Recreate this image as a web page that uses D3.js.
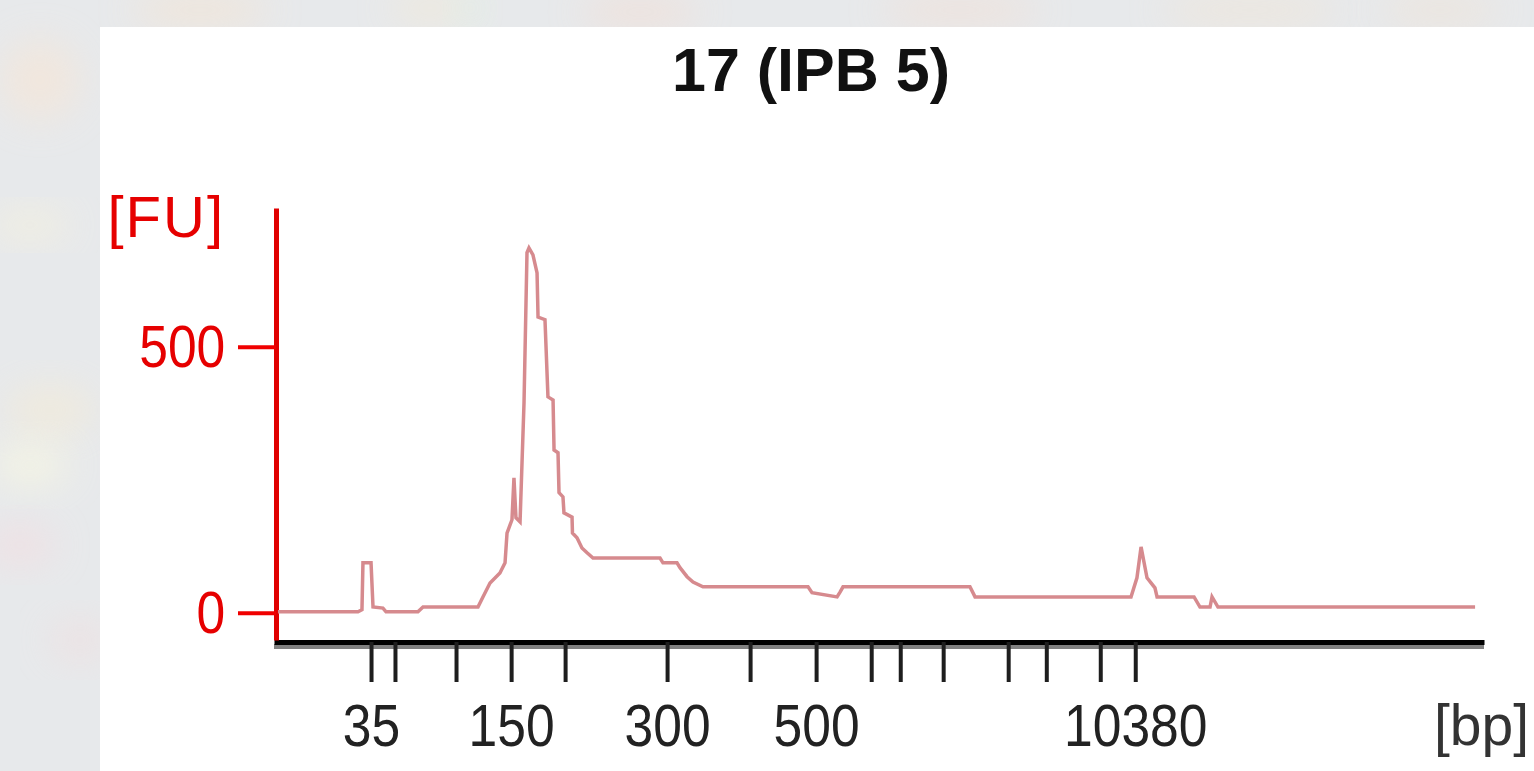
<!DOCTYPE html>
<html>
<head>
<meta charset="utf-8">
<script src="https://cdn.jsdelivr.net/npm/d3@7"></script>
<style>
  html, body { margin: 0; padding: 0; background: #e7e9eb; overflow: hidden; }
  svg { display: block; }
</style>
</head>
<body>
<div class="mydiv"></div>
<script>
var width = 1534;
var height = 771;

// ladder (bp) and where each one migrated (s)
var ladderBp = [35, 50, 100, 150, 200, 300, 400, 500, 600, 700, 1000, 2000, 3000, 7000, 10380];
var ladderTime = [46.71, 48.40, 52.71, 56.60, 60.41, 67.61, 73.47, 78.13, 82.02, 84.07, 87.10, 91.69, 94.38, 98.19, 100.66];
var labelledBp = [35, 150, 300, 500, 10380];
var yTicks = [0, 500];

// electropherogram trace, time (s) vs fluorescence (FU)
var traceTime = [40.14, 45.79, 46.07, 46.14, 46.71, 46.85, 47.55, 47.77, 50.02, 50.38,
                 54.26, 54.61, 55.11, 55.81, 56.17, 56.31, 56.66, 56.80, 56.94, 57.23,
                 57.51, 57.72, 57.86, 58.14, 58.43, 58.50, 58.99, 59.20, 59.56, 59.63,
                 59.91, 59.98, 60.26, 60.33, 60.90, 60.93, 61.25, 61.60, 61.96, 62.38,
                 67.11, 67.32, 68.31, 68.52, 69.02, 69.44, 70.14, 77.56, 77.84, 79.61,
                 79.82, 80.03, 88.99, 89.35, 100.36, 100.78, 101.07, 101.49, 102.05, 102.20,
                 104.81, 105.23, 105.94, 106.08, 106.50, 124.65];
var traceFU = [2, 2, 6, 94, 94, 11, 9, 2, 2, 11,
               11, 30, 56, 75, 94, 150, 175, 254, 179, 171,
               395, 677, 686, 673, 639, 556, 551, 406, 400, 306,
               301, 226, 218, 188, 180, 150, 141, 122, 113, 103,
               103, 94, 94, 85, 68, 58, 49, 49, 38, 30,
               39, 49, 49, 30, 30, 66, 124, 66, 47, 30,
               30, 11, 11, 30, 11, 11];

var svg = d3.select(".mydiv").append("svg")
    .attr("width", width)
    .attr("height", height);

var defs = svg.append("defs");
defs.append("filter")
    .attr("id", "blur")
    .attr("x", "-50%").attr("y", "-50%")
    .attr("width", "200%").attr("height", "200%")
  .append("feGaussianBlur")
    .attr("stdDeviation", 18);

// blurred photo behind the panel
svg.append("rect")
    .attr("width", width)
    .attr("height", height)
    .attr("fill", "#e7e9eb");

var blobs = [
  [200, 10, 70, 14, "#f6e3cf"], [430, 8, 40, 14, "#f3e9d6"], [470, 8, 14, 14, "#dcf3e2"],
  [640, 12, 60, 14, "#f4ddd2"], [960, 10, 80, 14, "#f3dfd4"], [1250, 10, 90, 14, "#f1e5d6"],
  [1440, 10, 60, 14, "#f0e3d6"], [40, 80, 40, 40, "#f5e6d8"], [30, 225, 40, 14, "#f7f2dc"],
  [50, 410, 45, 25, "#f3ebd8"], [30, 465, 40, 22, "#f8f7e2"], [20, 545, 35, 20, "#f3dde1"],
  [80, 640, 30, 20, "#efdfe0"]
];
svg.selectAll(".blob")
    .data(blobs)
  .enter().append("ellipse")
    .attr("class", "blob")
    .attr("cx", function(d) { return d[0]; })
    .attr("cy", function(d) { return d[1]; })
    .attr("rx", function(d) { return d[2]; })
    .attr("ry", function(d) { return d[3]; })
    .attr("fill", function(d) { return d[4]; })
    .attr("opacity", 0.7)
    .attr("filter", "url(#blur)");

svg.append("rect")
    .attr("x", 100)
    .attr("y", 27)
    .attr("width", width - 100)
    .attr("height", height - 27)
    .attr("fill", "#ffffff");

var x = d3.scaleLinear().domain([39.86, 125.28]).range([274, 1484]);
var y = d3.scaleLinear().domain([-51, 761]).range([640, 208]);

svg.append("text")
    .attr("x", 811)
    .attr("y", 91)
    .attr("text-anchor", "middle")
    .attr("font-family", "Liberation Sans, Arial, sans-serif")
    .attr("font-weight", "bold")
    .attr("font-size", 61)
    .attr("fill", "#111")
    .text("17 (IPB 5)");

// x axis
svg.append("rect")
    .attr("x", 274)
    .attr("y", 644)
    .attr("width", 1484 - 274)
    .attr("height", 5)
    .attr("fill", "#808080");

var xAxis = d3.axisBottom(x)
    .tickValues(ladderTime)
    .tickSize(40)
    .tickSizeOuter(0)
    .tickPadding(21)
    .tickFormat(function(d, i) {
      return labelledBp.indexOf(ladderBp[i]) >= 0 ? ladderBp[i] : "";
    });

var gx = svg.append("g")
    .attr("transform", "translate(0,642)")
    .call(xAxis);
gx.select(".domain")
    .attr("stroke", "#000")
    .attr("stroke-width", 5);
gx.selectAll(".tick line")
    .attr("stroke", "#1e1e1e")
    .attr("stroke-width", 4);
gx.selectAll(".tick text")
    .attr("font-family", "Liberation Sans, Arial, sans-serif")
    .attr("font-size", 60)
    .attr("fill", "#222")
    .attr("transform", "scale(0.86,1)");

svg.append("text")
    .attr("x", 1529)
    .attr("y", 745)
    .attr("text-anchor", "end")
    .attr("font-family", "Liberation Sans, Arial, sans-serif")
    .attr("font-size", 57)
    .attr("fill", "#333")
    .text("[bp]");

// y axis
var yAxis = d3.axisLeft(y)
    .tickValues(yTicks)
    .tickSize(38)
    .tickSizeOuter(0)
    .tickPadding(11);

var gy = svg.append("g")
    .attr("transform", "translate(276,0)")
    .call(yAxis);
gy.select(".domain")
    .attr("stroke", "#e00000")
    .attr("stroke-width", 5);
gy.selectAll(".tick line")
    .attr("stroke", "#f00000")
    .attr("stroke-width", 4);
gy.selectAll(".tick text")
    .attr("font-family", "Liberation Sans, Arial, sans-serif")
    .attr("font-size", 60)
    .attr("fill", "#e60000")
    .attr("transform", "scale(0.86,1) translate(-10,0)");

svg.append("text")
    .attr("x", 225)
    .attr("y", 237)
    .attr("text-anchor", "end")
    .attr("font-family", "Liberation Sans, Arial, sans-serif")
    .attr("font-size", 58)
    .attr("letter-spacing", 2)
    .attr("fill", "#e60000")
    .text("[FU]");

// trace
var line = d3.line()
    .x(function(d) { return x(d[0]); })
    .y(function(d) { return y(d[1]); });

svg.append("path")
    .datum(d3.zip(traceTime, traceFU))
    .attr("d", line)
    .attr("fill", "none")
    .attr("stroke", "#d68a8e")
    .attr("stroke-width", 3.5)
    .attr("stroke-linejoin", "miter");
</script>
</body>
</html>
